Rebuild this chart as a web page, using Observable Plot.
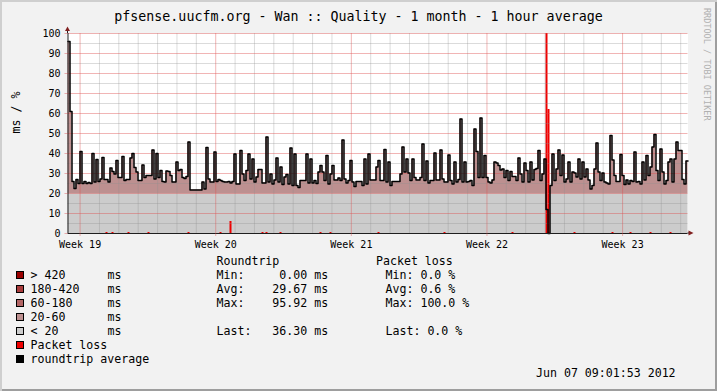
<!DOCTYPE html>
<html><head><meta charset="utf-8">
<script src="https://cdn.jsdelivr.net/npm/d3@7"></script>
<script src="https://cdn.jsdelivr.net/npm/@observablehq/plot@0.6"></script>
<style>
html,body{margin:0;padding:0;background:#f2f2f2;}
#wrap{position:relative;width:717px;height:391px;overflow:hidden;background:#f2f2f2;font-family:"DejaVu Sans Mono",monospace;color:#000;box-shadow:inset 2px 2px 0 #cfcfcf, inset -2px -2px 0 #9e9e9e;}
.t{position:absolute;white-space:pre;line-height:14px;font-size:11.6px;}
.sw{position:absolute;width:8px;height:8px;box-sizing:border-box;border:1px solid #000;}
#title{position:absolute;left:0;top:8.5px;width:717px;text-align:center;font-size:13.3px;line-height:16px;white-space:pre;}
#wm{position:absolute;left:701.5px;top:8px;writing-mode:vertical-rl;font-size:8.5px;line-height:10px;color:#b0b0b0;white-space:pre;}
#chart{position:absolute;left:0;top:20px;}
</style></head>
<body><div id="wrap"><div id="title"></div><div id="wm"></div><div id="chart"></div></div>
<script>
// ---- data ----
const titleText = "pfsense.uucfm.org - Wan :: Quality - 1 month - 1 hour average";
const watermark = "RRDTOOL / TOBI OETIKER";
const stampText = "Jun 07 09:01:53 2012";
const startTime = Date.UTC(2012, 4, 6, 9, 1, 53);
const endTime = Date.UTC(2012, 5, 7, 9, 1, 53);

// roundtrip average (ms), equally spaced over the month
const rtt = [
 96, 61, 26, 22.5, 27, 25, 41, 25, 26, 25,
 25.5, 25, 40, 25.7, 37, 26, 27.3, 38, 27, 27,
 25.7, 32.7, 31, 29.8, 36.5, 28, 28, 38.5, 26.5, 27,
 27, 37.8, 40, 33, 30.7, 26.5, 26.5, 34.3, 28, 29,
 29, 29, 41.8, 27.3, 40, 28, 31.5, 26, 25.7, 31.2,
 31, 29, 25.7, 25.7, 35.7, 31.5, 32, 28, 27.5, 28.5,
 45.7, 21.8, 21.8, 21.8, 21.8, 21.8, 21.8, 25.7, 22.3, 43,
 27.3, 25.7, 25.7, 40.7, 26, 27, 26.5, 26, 25.7, 25.7,
 26, 25.2, 26, 39.8, 24.8, 24.8, 41.5, 29.8, 26.5, 31.5,
 39.8, 27.3, 37.3, 25.7, 28.2, 32, 32, 25.2, 25.2, 48.2,
 25.7, 29.8, 24.8, 26.8, 37.8, 25.7, 33.2, 24.5, 28.2, 29.5,
 24.8, 42.7, 24, 39.8, 24, 23, 26.5, 26.5, 26.5, 39.8,
 25.2, 37.3, 25.2, 26.5, 25, 30.7, 34, 30.7, 26.5, 39,
 24.8, 29.8, 34, 26.8, 26.8, 27.8, 26.5, 46.8, 27.3, 25.2,
 26.5, 36.5, 25.7, 23.5, 26, 26, 26, 24, 37.3, 24.8,
 39.8, 26.8, 26.8, 26.8, 33.2, 36.5, 26.5, 26.5, 42, 25.7,
 35.7, 24, 26, 26, 26, 26, 29.8, 43.2, 30.7, 37.3,
 30.2, 26.5, 37.3, 28, 26.8, 26.8, 28, 44.8, 26.5, 36.2,
 25.2, 26.5, 26.5, 40.2, 26.8, 26.8, 41.8, 27.3, 25.7, 25.7,
 39.3, 26.5, 24.8, 35.7, 25.7, 27, 57.3, 25.7, 35.7, 25.7,
 26, 26.5, 24, 52.3, 41, 28, 57.8, 28, 39, 28,
 25.7, 25.2, 26.8, 35.7, 35.2, 34, 31.8, 32.3, 28, 31.5,
 26.5, 31, 28.5, 28.5, 26.5, 37.8, 29.8, 25.7, 35.2, 31.5,
 25.7, 35.7, 26.8, 32, 32.5, 41.5, 26.5, 29.8, 37.3, 12,
 0, 24, 39.8, 26.5, 32.3, 41.8, 29, 39.3, 25.7, 27.3,
 35.7, 25.7, 30.7, 30.2, 28.2, 37.3, 27.3, 35.7, 28.2, 32.3,
 26.8, 22.3, 24, 32.3, 45.2, 30.7, 26.5, 30.2, 25.7, 25.2,
 24.8, 49, 36.8, 29, 26, 26, 39.5, 29, 24.5, 26.8,
 24.8, 26.5, 26, 40.7, 25.7, 26, 24.8, 35.7, 26.8, 39,
 29, 33.2, 43.2, 49.5, 31.5, 26.5, 42.3, 30.7, 24.8, 26.5,
 35.7, 37.3, 25.7, 37.3, 45.7, 41.5, 41.5, 27, 24.8, 36.3
];
// packet loss (%): interval index and value
const lossIndex = [19, 22, 30, 40, 60, 76, 81, 97, 99, 106, 126, 131, 155, 188, 222, 239, 240, 253, 272, 281, 291, 301];
const lossValue = [0.5, 0.5, 0.5, 0.5, 0.5, 0.5, 6, 0.5, 0.5, 0.5, 0.5, 0.5, 0.5, 0.5, 0.5, 100, 62, 0.5, 0.5, 0.5, 0.5, 0.5];

const yMajor = [0, 10, 20, 30, 40, 50, 60, 70, 80, 90, 100];
const yMinor = [5, 15, 25, 35, 45, 55, 65, 75, 85, 95];
const bandThreshold = 20;

const legendLabels = ["> 420", "180-420", "60-180", "20-60", "< 20", "Packet loss", "roundtrip average"];
const legendColors = ["#990000", "#a83c3c", "#b36666", "#bd9090", "#cccccc", "#ee0000", "#000000"];
const legendUnits = ["ms", "ms", "ms", "ms", "ms", "", ""];
const statNames = ["Min:", "Avg:", "Max:", "", "Last:"];
const rttStats = ["0.00", "29.67", "95.92", "", "36.30"];
const lossStats = ["0.0", "0.6", "100.0", "", "0.0"];

// ---- build ----
const start = new Date(startTime), end = new Date(endTime);
const step = (endTime - startTime) / rtt.length;
const series = rtt.map((v, i) => ({t: new Date(startTime + i * step), v}));
series.push({t: end, v: rtt[rtt.length - 1]});
const lossData = lossIndex.map((b, k) => ({t1: new Date(startTime + b * step), t2: new Date(startTime + (b + 1) * step), p: lossValue[k]}));
const weeks = d3.utcMonday.range(start, end);
const days = d3.utcDay.range(start, end).filter(d => d.getUTCDay() !== 1);

const gridMinor = "rgba(143,143,143,0.32)";
const gridMajor = "rgba(222,79,79,0.42)";
const axisColor = "#1f1f1f";
const arrowColor = "#801f1f";

const plot = Plot.plot({
  width: 717, height: 232,
  marginLeft: 67.5, marginRight: 29.5, marginTop: 13, marginBottom: 19,
  style: {background: "transparent", fontFamily: "DejaVu Sans Mono", fontSize: "10px", color: "#000", overflow: "visible"},
  x: {type: "utc", domain: [start, end]},
  y: {domain: [0, 100]},
  marks: [
    Plot.frame({fill: "#ffffff", stroke: null}),
    Plot.areaY(series, {x: "t", y1: 0, y2: d => Math.min(d.v, bandThreshold), curve: "step-after", fill: legendColors[4]}),
    Plot.areaY(series, {x: "t", y1: bandThreshold, y2: d => Math.max(d.v, bandThreshold), curve: "step-after", fill: legendColors[3]}),
    Plot.rect(lossData, {x1: "t1", x2: "t2", y1: 0, y2: "p", fill: legendColors[5]}),
    Plot.ruleX(days, {stroke: gridMinor}),
    Plot.ruleY(yMinor, {stroke: gridMinor}),
    Plot.ruleX(weeks, {stroke: gridMajor}),
    Plot.ruleY(yMajor.slice(1), {stroke: gridMajor}),
    Plot.lineY(series, {x: "t", y: "v", curve: "step-after", stroke: legendColors[6], strokeWidth: 1.5}),
    Plot.ruleY([0], {stroke: axisColor}),
    Plot.ruleX([start], {stroke: axisColor}),
    Plot.axisX({ticks: weeks, tickFormat: d3.utcFormat("Week %V"), tickSize: 3, tickPadding: 4, stroke: gridMajor, label: null}),
    Plot.axisY({ticks: yMajor, tickSize: 3, tickPadding: 4.5, stroke: gridMajor, label: null}),
    Plot.text(["ms / %"], {text: d => d, frameAnchor: "left", dx: -52, rotate: -90, fontSize: 11.6})
  ]
});

// axis arrows
const sx = plot.scale("x"), sy = plot.scale("y");
const x0 = sx.apply(start), x1 = sx.apply(end), y0 = sy.apply(0), y1 = sy.apply(100);
const svg = d3.select(plot);
svg.append("line").attr("x1", x0).attr("x2", x0).attr("y1", y1).attr("y2", y1 - 2.5).attr("stroke", axisColor);
svg.append("path").attr("d", `M${x0 - 2.5},${y1 - 2}L${x0 + 2.5},${y1 - 2}L${x0},${y1 - 6.5}Z`).attr("fill", arrowColor);
svg.append("line").attr("x1", x1).attr("x2", x1 + 1.5).attr("y1", y0).attr("y2", y0).attr("stroke", axisColor);
svg.append("path").attr("d", `M${x1 + 1},${y0 - 2.5}L${x1 + 1},${y0 + 2.5}L${x1 + 6},${y0}Z`).attr("fill", arrowColor);

document.getElementById("chart").appendChild(plot);
document.getElementById("title").textContent = titleText;
document.getElementById("wm").textContent = watermark;

// legend
const wrap = document.getElementById("wrap");
function addText(str, x, cy) {
  const el = document.createElement("div");
  el.className = "t";
  el.textContent = str;
  el.style.left = x + "px";
  el.style.top = (cy - 6.8) + "px";
  wrap.appendChild(el);
}
const row0 = 275, rowH = 14;
addText("Roundtrip", 216.5, row0 - rowH);
addText("Packet loss", 376, row0 - rowH);
legendLabels.forEach((lab, i) => {
  const cy = row0 + i * rowH;
  const sw = document.createElement("div");
  sw.className = "sw";
  sw.style.left = "16px";
  sw.style.top = (cy - 4) + "px";
  sw.style.background = legendColors[i];
  wrap.appendChild(sw);
  addText(lab, 30.5, cy);
  if (legendUnits[i]) addText(legendUnits[i], 107.5, cy);
  if (i < statNames.length && statNames[i]) {
    const n = statNames[i];
    addText(n + rttStats[i].padStart(13 - n.length) + " ms", 216.5, cy);
    addText(n + " " + lossStats[i] + " %", 385.5, cy);
  }
});
addText(stampText, 536, row0 + 7 * rowH);
</script>
</body></html>
